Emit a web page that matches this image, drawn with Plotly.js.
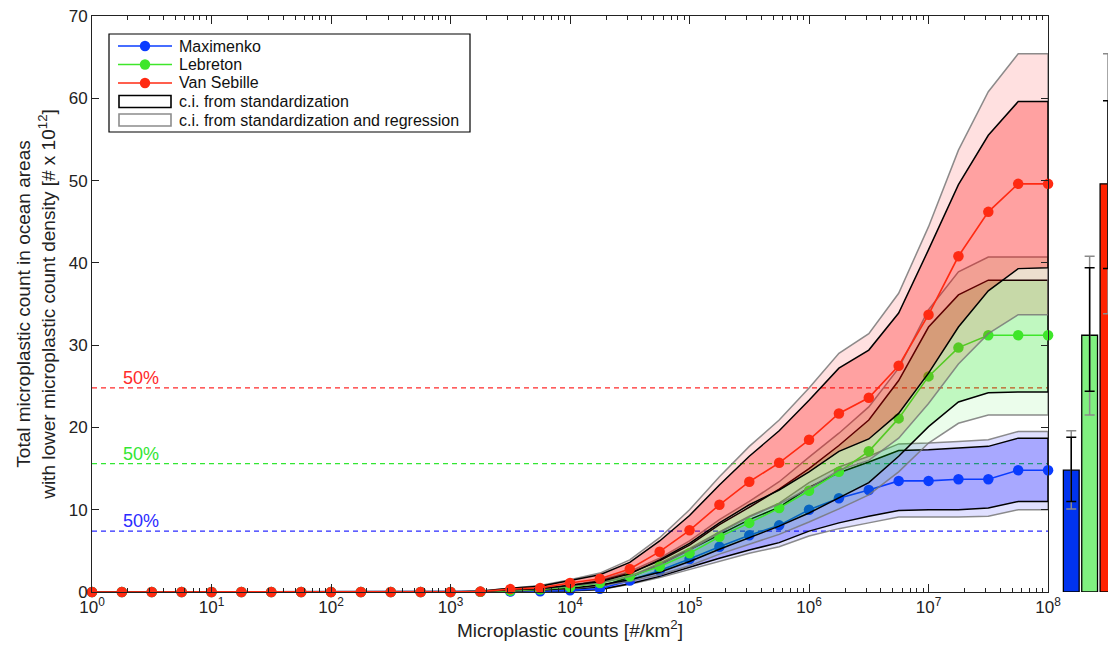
<!DOCTYPE html>
<html>
<head>
<meta charset="utf-8">
<script src="https://cdn.plot.ly/plotly-3.0.1.min.js"></script>
<style>html,body{margin:0;padding:0;background:#fff;}#chart{width:1108px;height:653px;}</style>
</head>
<body>
<div id="chart"></div>
<script>
// x positions: 4 points per decade, 10^0 .. 10^8
const xVals = [1, 1.778, 3.162, 5.623, 10, 17.78, 31.62, 56.23, 100, 177.8, 316.2, 562.3, 1000,
  1778, 3162, 5623, 10000, 17783, 31623, 56234, 100000, 177828, 316228, 562341, 1000000,
  1778279, 3162278, 5623413, 10000000, 17782794, 31622777, 56234133, 100000000];

// Van Sebille
const vsMean    = [0,0,0,0,0,0,0,0,0,0,0,0,0, 0.05,0.35,0.5,1.1,1.6,2.8,4.9,7.5,10.6,13.4,15.7,18.5,21.7,23.6,27.5,33.7,40.8,46.2,49.6,49.6];
const vsInnerHi = [0,0,0,0,0,0,0,0,0,0,0,0,0, 0.1,0.45,0.7,1.4,2.1,3.6,6.2,9.3,13.0,16.5,19.6,23.3,27.2,29.4,33.9,41.6,49.5,55.5,59.6,59.6];
const vsInnerLo = [0,0,0,0,0,0,0,0,0,0,0,0,0, 0.04,0.28,0.4,0.85,1.25,2.2,3.9,5.9,8.4,10.6,12.4,14.6,17.1,18.6,21.7,26.6,32.2,36.6,39.3,39.4];
const vsOuterHi = [0,0,0,0,0,0,0,0,0,0,0,0,0, 0.12,0.5,0.8,1.5,2.3,3.9,6.6,10.0,14.0,17.7,20.9,24.8,29.0,31.4,36.3,44.4,53.7,60.8,65.4,65.4];
const vsOuterLo = [0,0,0,0,0,0,0,0,0,0,0,0,0, 0.03,0.24,0.34,0.75,1.1,1.9,3.3,5.1,7.2,9.1,10.7,12.6,14.8,16.0,18.7,22.9,27.7,31.4,33.7,33.7];

// Lebreton
const lebMean    = [0,0,0,0,0,0,0,0,0,0,0,0,0, 0.03,0.15,0.3,0.6,1.1,1.9,3.1,4.7,6.7,8.4,10.2,12.3,14.6,17.1,21.1,26.2,29.7,31.2,31.2,31.2];
const lebInnerHi = [0,0,0,0,0,0,0,0,0,0,0,0,0, 0.04,0.18,0.37,0.75,1.35,2.3,3.8,5.7,8.2,10.3,12.5,15.0,17.8,20.9,25.7,32.2,36.1,37.9,37.9,37.9];
const lebInnerLo = [0,0,0,0,0,0,0,0,0,0,0,0,0, 0.02,0.12,0.23,0.47,0.86,1.5,2.4,3.7,5.2,6.6,8.0,9.6,11.4,13.3,16.5,20.1,23.1,24.2,24.3,24.3];
const lebOuterHi = [0,0,0,0,0,0,0,0,0,0,0,0,0, 0.04,0.2,0.4,0.8,1.45,2.5,4.1,6.2,8.8,11.0,13.4,16.4,19.3,22.5,27.2,34.3,38.9,40.7,40.7,40.7];
const lebOuterLo = [0,0,0,0,0,0,0,0,0,0,0,0,0, 0.02,0.1,0.2,0.41,0.76,1.3,2.1,3.2,4.6,5.8,7.0,8.5,10.1,11.8,14.6,18.1,20.5,21.5,21.5,21.5];

// Maximenko
const maxMean    = [0,0,0,0,0,0,0,0,0,0,0,0,0, 0.02,0.05,0.1,0.2,0.4,1.4,2.6,4.0,5.5,6.9,8.1,10.0,11.4,12.4,13.5,13.5,13.7,13.7,14.8,14.8];
const maxInnerHi = [0,0,0,0,0,0,0,0,0,0,0,0,0, 0.03,0.07,0.14,0.3,0.6,1.8,3.3,5.1,7.0,8.8,10.3,12.7,14.5,15.8,17.2,17.3,17.5,17.7,18.7,18.7];
const maxInnerLo = [0,0,0,0,0,0,0,0,0,0,0,0,0, 0.01,0.04,0.07,0.15,0.3,1.0,1.9,3.0,4.1,5.1,6.0,7.4,8.4,9.2,9.9,10.0,10.0,10.2,11.0,11.0];
const maxOuterHi = [0,0,0,0,0,0,0,0,0,0,0,0,0, 0.03,0.08,0.15,0.32,0.65,1.9,3.5,5.3,7.3,9.2,10.8,13.3,15.2,16.5,18.0,18.1,18.3,18.5,19.5,19.5];
const maxOuterLo = [0,0,0,0,0,0,0,0,0,0,0,0,0, 0.01,0.03,0.07,0.13,0.27,0.95,1.75,2.7,3.7,4.7,5.5,6.8,7.7,8.4,9.1,9.1,9.1,9.2,10.0,10.0];

// Totals panel (Maximenko, Lebreton, Van Sebille)
const barCats   = [0, 1, 2];
const barTotals = [14.8, 31.2, 49.6];
const barStdLo  = [11.0, 24.4, 39.3];
const barStdHi  = [18.8, 39.4, 59.7];
const barRegLo  = [10.1, 21.5, 33.8];
const barRegHi  = [19.6, 40.8, 65.4];

// 50% levels
const halfLevels = [7.4, 15.6, 24.8];
const halfColors = ['#2b2bff', '#33e633', '#ff2a2a'];

// legend
const seriesNames  = ['Maximenko', 'Lebreton', 'Van Sebille'];
const seriesColors = ['#0a3cff', '#3ee62a', '#ff2a12'];
const bandNames    = ['c.i. from standardization', 'c.i. from standardization and regression'];
const bandEdges    = ['#000000', '#8c8c8c'];

const decadeVals = [1, 10, 100, 1000, 10000, 100000, 1000000, 10000000, 100000000];
const decadeText = ['10<sup>0</sup>','10<sup>1</sup>','10<sup>2</sup>','10<sup>3</sup>','10<sup>4</sup>','10<sup>5</sup>','10<sup>6</sup>','10<sup>7</sup>','10<sup>8</sup>'];

const minorVals = [];
for (let d = 0; d < 8; d++) for (let m = 2; m <= 9; m++) minorVals.push(m * Math.pow(10, d));

const FONT = 'Liberation Sans, Arial, Helvetica, sans-serif';
const W = 1108, H = 653, ML = 92, MR = 0, MT = 16, MB = 61;
const PW = W - ML - MR, PH = H - MT - MB;
const px = v => (v - ML) / PW;          // pixel -> paper x
const py = v => (H - MB - v) / PH;      // pixel -> paper y

function band(hi, lo, fillcolor, lineColor, name) {
  return {
    x: xVals.concat(xVals.slice().reverse()),
    y: hi.concat(lo.slice().reverse()),
    type: 'scatter', mode: 'lines', fill: 'toself', name: name,
    fillcolor: fillcolor,
    line: {color: lineColor, width: 1.5},
    showlegend: false, hoverinfo: 'skip'
  };
}
function meanLine(y, color, name) {
  return {
    x: xVals, y: y, type: 'scatter', mode: 'lines+markers', name: name,
    line: {color: color, width: 1.6},
    marker: {color: color, size: 10.5},
    cliponaxis: false, showlegend: false
  };
}

const GRAY = 'rgba(120,120,120,0.85)';
const traces = [
  band(maxOuterHi, maxOuterLo, 'rgba(0,0,255,0.12)', GRAY, 'Maximenko ' + bandNames[1]),
  band(maxInnerHi, maxInnerLo, 'rgba(0,0,255,0.25)', '#000', 'Maximenko ' + bandNames[0]),
  meanLine(maxMean, seriesColors[0], seriesNames[0]),
  band(lebOuterHi, lebOuterLo, 'rgba(0,230,0,0.08)', GRAY, 'Lebreton ' + bandNames[1]),
  band(lebInnerHi, lebInnerLo, 'rgba(0,230,0,0.18)', '#000', 'Lebreton ' + bandNames[0]),
  meanLine(lebMean, seriesColors[1], seriesNames[1]),
  band(vsOuterHi, vsOuterLo, 'rgba(255,0,0,0.12)', GRAY, 'Van Sebille ' + bandNames[1]),
  band(vsInnerHi, vsInnerLo, 'rgba(255,0,0,0.28)', '#000', 'Van Sebille ' + bandNames[0]),
  meanLine(vsMean, seriesColors[2], seriesNames[2]),
  // totals panel
  {x: barCats, y: barTotals, type: 'bar', xaxis: 'x2', yaxis: 'y2', width: 0.86,
   marker: {color: ['#0033ee', '#80f080', '#ff2200'], line: {color: '#000', width: 1.3}},
   showlegend: false, hoverinfo: 'skip'},
  {x: barCats, y: barTotals, type: 'scatter', mode: 'markers', xaxis: 'x2', yaxis: 'y2',
   marker: {size: 1, opacity: 0}, showlegend: false, hoverinfo: 'skip',
   error_y: {type: 'data', symmetric: false,
     array: barRegHi.map((v, i) => v - barTotals[i]),
     arrayminus: barTotals.map((v, i) => v - barRegLo[i]),
     color: '#8a8a8a', thickness: 1.5, width: 5}},
  {x: barCats, y: barTotals, type: 'scatter', mode: 'markers', xaxis: 'x2', yaxis: 'y2',
   marker: {size: 1, opacity: 0}, showlegend: false, hoverinfo: 'skip',
   error_y: {type: 'data', symmetric: false,
     array: barStdHi.map((v, i) => v - barTotals[i]),
     arrayminus: barTotals.map((v, i) => v - barStdLo[i]),
     color: '#000', thickness: 1.5, width: 5}}
];

const shapes = halfLevels.map((lv, i) => ({
  type: 'line', xref: 'x domain', yref: 'y', x0: 0, x1: 1, y0: lv, y1: lv,
  line: {color: halfColors[i], width: 1.3, dash: '5px,4px'}, layer: 'below'
}));
const annotations = halfLevels.map((lv, i) => ({
  xref: 'x domain', yref: 'y', x: 0.03, y: lv, xanchor: 'left', yanchor: 'bottom',
  text: '50%', showarrow: false, font: {family: FONT, size: 18, color: halfColors[i]}, yshift: -2
}));

// ---- legend (drawn as a framed box) ----
const legRows = [46, 64.5, 83, 101.5, 120];
shapes.push({type: 'rect', xref: 'paper', yref: 'paper', x0: px(109), x1: px(470), y0: py(132), y1: py(34),
  line: {color: '#000', width: 1.2}, fillcolor: '#fff', layer: 'above'});
seriesNames.forEach((nm, i) => {
  shapes.push({type: 'line', xref: 'paper', yref: 'paper', x0: px(118), x1: px(172), y0: py(legRows[i]), y1: py(legRows[i]),
    line: {color: seriesColors[i], width: 1.6}, layer: 'above'});
  shapes.push({type: 'circle', xref: 'paper', yref: 'paper', xsizemode: 'pixel', ysizemode: 'pixel',
    xanchor: px(145), yanchor: py(legRows[i]), x0: -5.2, x1: 5.2, y0: -5.2, y1: 5.2,
    line: {color: seriesColors[i], width: 0}, fillcolor: seriesColors[i], layer: 'above'});
  annotations.push({xref: 'paper', yref: 'paper', x: px(177), y: py(legRows[i]), xanchor: 'left', yanchor: 'middle',
    text: nm, showarrow: false, font: {family: FONT, size: 16, color: '#111'}});
});
bandNames.forEach((nm, j) => {
  const r = legRows[3 + j];
  shapes.push({type: 'rect', xref: 'paper', yref: 'paper', x0: px(119), x1: px(171), y0: py(r + 6), y1: py(r - 6),
    line: {color: bandEdges[j], width: 1.6}, fillcolor: '#fff', layer: 'above'});
  annotations.push({xref: 'paper', yref: 'paper', x: px(177), y: py(r), xanchor: 'left', yanchor: 'middle',
    text: nm, showarrow: false, font: {family: FONT, size: 16, color: '#111'}});
});

const layout = {
  width: W, height: H,
  margin: {l: ML, r: MR, t: MT, b: MB, pad: 0},
  paper_bgcolor: '#fff', plot_bgcolor: '#fff',
  font: {family: FONT, color: '#222'},
  showlegend: false,
  xaxis: {
    type: 'log', range: [0, 8], domain: [0, 0.941], anchor: 'y',
    tickmode: 'array', tickvals: decadeVals, ticktext: decadeText,
    ticks: 'inside', ticklen: 8, tickwidth: 1, tickcolor: '#222',
    minor: {tickmode: 'array', tickvals: minorVals, ticks: 'inside', ticklen: 4, tickcolor: '#222'},
    showline: true, linecolor: '#222', linewidth: 1, mirror: 'ticks',
    showgrid: false, zeroline: false,
    tickfont: {family: FONT, size: 17, color: '#222'},
    title: {text: 'Microplastic counts [#/km<sup>2</sup>]', font: {family: FONT, size: 19, color: '#222'}, standoff: 4}
  },
  yaxis: {
    range: [0, 70], tickmode: 'linear', tick0: 0, dtick: 10, anchor: 'x',
    ticks: 'inside', ticklen: 7, tickwidth: 1, tickcolor: '#222',
    showline: true, linecolor: '#222', linewidth: 1, mirror: 'ticks',
    showgrid: false, zeroline: false,
    tickfont: {family: FONT, size: 17, color: '#222'},
    title: {text: 'Total microplastic count in ocean areas<br>with lower microplastic count density [# x 10<sup>12</sup>]',
      font: {family: FONT, size: 19, color: '#222'}, standoff: 8}
  },
  xaxis2: {domain: [0.953, 1], range: [-0.6, 2.0], anchor: 'y2', visible: false},
  yaxis2: {domain: [0, 1], range: [0, 70], anchor: 'x2', visible: false},
  shapes: shapes,
  annotations: annotations,
  bargap: 0
};

Plotly.newPlot('chart', traces, layout, {staticPlot: true, displayModeBar: false});
</script>
</body>
</html>
